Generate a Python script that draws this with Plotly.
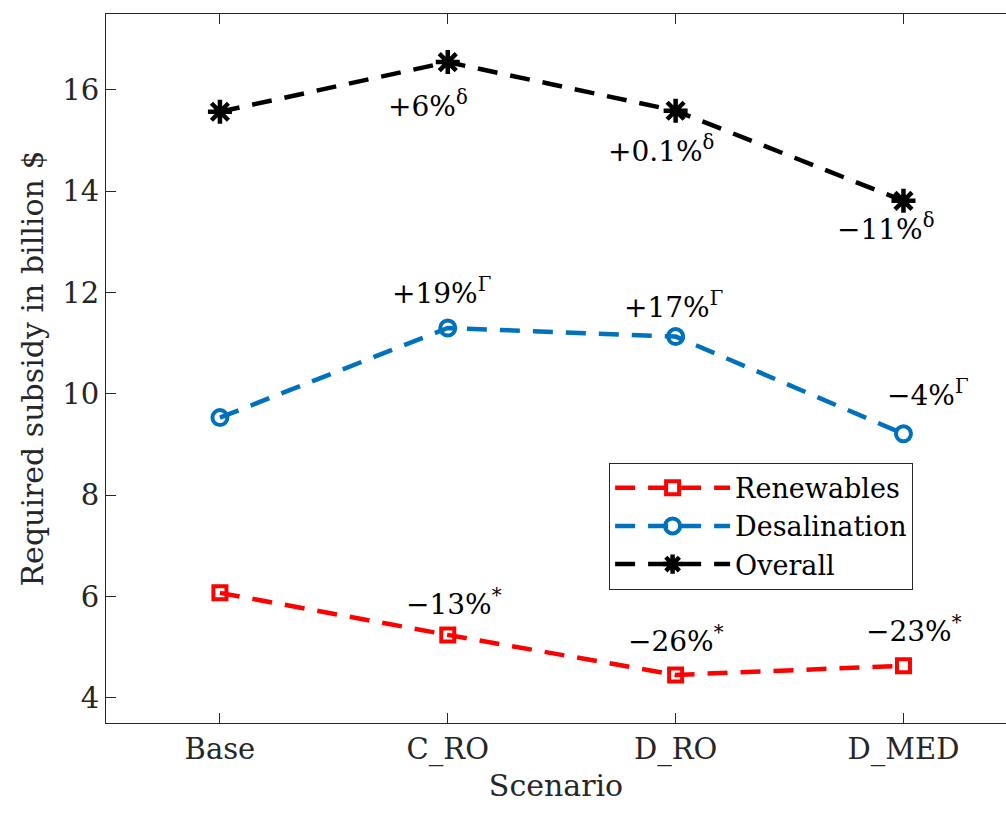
import plotly.graph_objects as go

scenarios = ["Base", "C_RO", "D_RO", "D_MED"]
x_pos = [1, 2, 3, 4]
renewables = [6.07, 5.24, 4.45, 4.63]
desalination = [9.53, 11.30, 11.13, 9.21]
overall = [15.57, 16.55, 15.59, 13.81]

renew_labels = ["", "−13%<sup>*</sup>", "−26%<sup>*</sup>", "−23%<sup>*</sup>"]
desal_labels = ["", "+19%<sup>Γ</sup>", "+17%<sup>Γ</sup>", "−4%<sup>Γ</sup>"]
overall_labels = ["", "+6%<sup>δ</sup>", "+0.1%<sup>δ</sup>", "−11%<sup>δ</sup>"]

FONT = "DejaVu Serif"
AX = "#262626"

fig = go.Figure()
fig.add_trace(go.Scatter(
    x=x_pos, y=renewables, name="Renewables", mode="lines+markers",
    line=dict(color="#FF0000", width=4.5, dash="20px,13px"),
    marker=dict(symbol="square-open", size=13, color="#FF0000", line=dict(width=4, color="#FF0000")),
))
fig.add_trace(go.Scatter(
    x=x_pos, y=desalination, name="Desalination", mode="lines+markers",
    line=dict(color="#0072BD", width=4.5, dash="20px,13px"),
    marker=dict(symbol="circle-open", size=15, color="#0072BD", line=dict(width=4, color="#0072BD")),
))
fig.add_trace(go.Scatter(
    x=x_pos, y=overall, name="Overall", mode="lines+markers",
    line=dict(color="#000000", width=4.5, dash="20px,13px"),
    marker=dict(symbol="asterisk-open", size=20, color="#000000", line=dict(width=4.5, color="#000000")),
))

shifts_renew = [(0, 0), (6, 32), (0, 35), (11, 36)]
shifts_desal = [(0, 0), (-6, 36), (-2, 31), (25, 40)]
shifts_overall = [(0, 0), (-20, -42), (-15, -39), (-17, -27)]

for labels, vals, shifts in [(renew_labels, renewables, shifts_renew),
                             (desal_labels, desalination, shifts_desal),
                             (overall_labels, overall, shifts_overall)]:
    for xi, yi, lab, (dx, dy) in zip(x_pos, vals, labels, shifts):
        if not lab:
            continue
        fig.add_annotation(x=xi, y=yi, text=lab, showarrow=False,
                           xshift=dx, yshift=dy,
                           font=dict(family=FONT, size=28, color="#000000"))

fig.update_layout(
    width=1006, height=817,
    margin=dict(l=106, r=0, t=14, b=94),
    plot_bgcolor="white", paper_bgcolor="white",
    font=dict(family=FONT, size=28, color=AX),
    showlegend=True,
    legend=dict(
        x=0.559, y=0.367, xanchor="left", yanchor="top",
        bgcolor="white", bordercolor=AX, borderwidth=1,
        font=dict(family=FONT, size=27, color="#000000"),
        itemwidth=115, tracegroupgap=0,
    ),
)
fig.update_xaxes(
    range=[0.5, 4.45], tickmode="array", tickvals=x_pos, ticktext=scenarios,
    showline=True, linecolor=AX, linewidth=1, mirror="ticks", automargin=False,
    ticks="inside", ticklen=10, tickcolor=AX, showgrid=False, zeroline=False,
    tickfont=dict(family=FONT, size=29, color=AX),
    title=dict(text="Scenario", font=dict(family=FONT, size=30, color=AX), standoff=9),
)
fig.update_yaxes(
    range=[3.5, 17.5], tickmode="array", tickvals=[4, 6, 8, 10, 12, 14, 16],
    showline=True, linecolor=AX, linewidth=1, mirror=False, automargin=False,
    ticks="inside", ticklen=10, tickcolor=AX, showgrid=False, zeroline=False,
    tickfont=dict(family=FONT, size=29, color=AX),
    title=dict(text="Required subsidy in billion $", font=dict(family=FONT, size=30, color=AX), standoff=9),
)

fig.write_html(
    "out.html",
    config={"displayModeBar": False},
    post_script="document.body.style.margin='0';document.body.style.overflow='hidden';",
)
